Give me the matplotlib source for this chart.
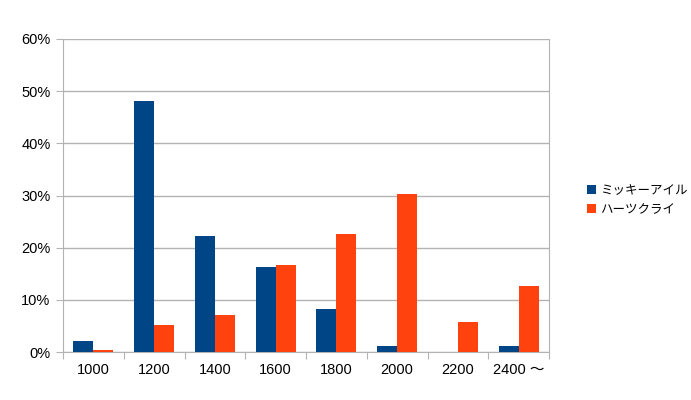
import matplotlib.pyplot as plt
import numpy as np
from matplotlib.ticker import PercentFormatter

plt.rcParams['font.family'] = ['Liberation Sans', 'Noto Sans CJK JP', 'DejaVu Sans']

categorias = ['1000', '1200', '1400', '1600', '1800', '2000', '2200', '2400 ～']
mickey = [2.2, 48.1, 22.2, 16.3, 8.2, 1.1, 0.0, 1.1]
heart = [0.4, 5.2, 7.1, 16.6, 22.6, 30.3, 5.8, 12.6]
series = ['ミッキーアイル', 'ハーツクライ']

fig = plt.figure(figsize=(6.91, 4.0), dpi=100)
ax = fig.add_axes([63 / 691, 48 / 400, 486 / 691, 313 / 400])

x = np.arange(len(categorias))
w = 0.33
ax.bar(x - w / 2, mickey, w, color='#004586', label=series[0], zorder=3)
ax.bar(x + w / 2, heart, w, color='#ff420e', label=series[1], zorder=3)

ax.set_xlim(-0.5, len(categorias) - 0.5)
ax.set_ylim(0, 60)
ax.set_yticks(range(0, 61, 10))
ax.yaxis.set_major_formatter(PercentFormatter(decimals=0))
ax.grid(True, axis='y', color='#b3b3b3', linewidth=1, zorder=0)

# ticks entre categorias, etiquetas centradas
ax.set_xticks(np.arange(len(categorias) + 1) - 0.5)
ax.set_xticklabels([])
ax.set_xticks(x, minor=True)
ax.set_xticklabels(categorias, minor=True)
ax.tick_params(axis='x', which='minor', length=0, pad=8, labelsize=10.5)
ax.tick_params(axis='x', which='major', length=5, color='#b3b3b3')
ax.tick_params(axis='y', length=5, color='#b3b3b3', labelsize=10.5, pad=4)

ax.spines['top'].set_visible(False)
for s in ['left', 'bottom', 'right']:
    ax.spines[s].set_color('#b3b3b3')

fig.legend(loc='center left', bbox_to_anchor=(576 / 691, 1 - 200 / 400),
           frameon=False, handlelength=0.7, handleheight=0.7,
           handletextpad=0.3, labelspacing=0.45,
           prop={'family': ['Noto Sans CJK JP'], 'size': 9})

fig.savefig('out.png', dpi=100)
